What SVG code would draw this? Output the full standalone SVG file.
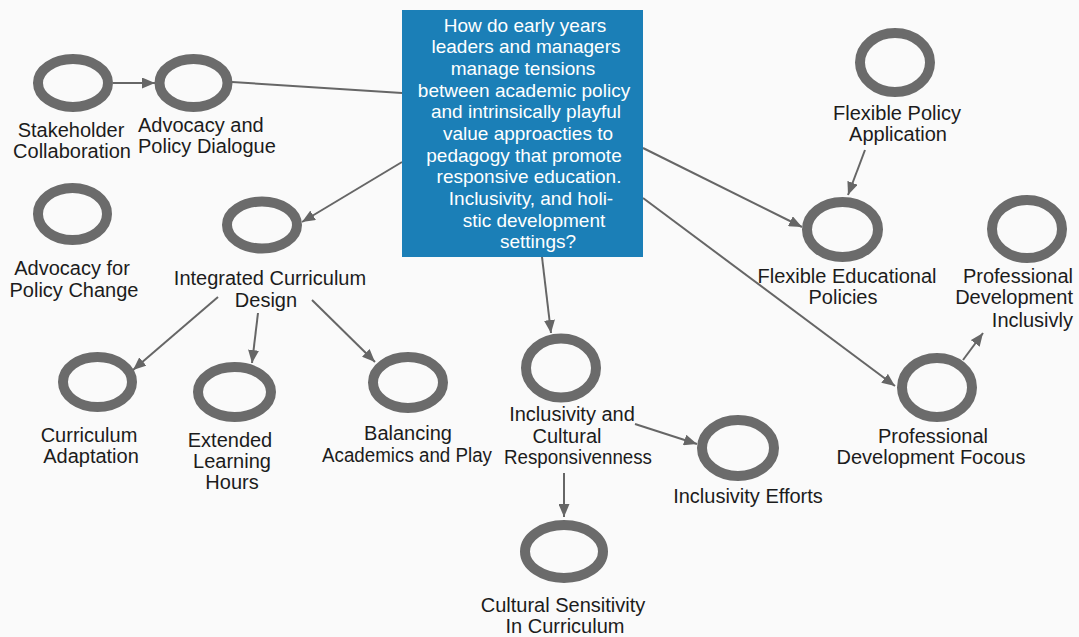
<svg xmlns="http://www.w3.org/2000/svg" width="1079" height="637" viewBox="0 0 1079 637">
  <defs>
    <marker id="arrow" markerUnits="userSpaceOnUse" markerWidth="13" markerHeight="11" refX="13" refY="5.5" orient="auto">
      <path d="M0,0 L13,5.5 L0,11 z" fill="#666666"/>
    </marker>
    <style>
      .ring { fill: none; stroke: #6b6b6b; stroke-width: 10; }
      .edge { fill: none; stroke: #666666; stroke-width: 2; }
      .arr { marker-end: url(#arrow); }
      .lbl { font-family: "Liberation Sans", Arial, sans-serif; font-size: 20px; fill: #1c1c1c; text-anchor: middle; }
      .q { font-family: "Liberation Sans", Arial, sans-serif; font-size: 19px; fill: #ffffff; text-anchor: middle; }
    </style>
  </defs>

  <rect x="0" y="0" width="1079" height="637" fill="#fafafa"/>

  <!-- connectors -->
  <g id="connectors">
    <path class="edge arr" d="M113,83 L155,83"/>
    <path class="edge" d="M232,82 L402,93"/>
    <path class="edge arr" d="M402,162 L302,222"/>
    <path class="edge arr" d="M218,297 L133,370"/>
    <path class="edge arr" d="M258,313 L252,363"/>
    <path class="edge arr" d="M312,300 L375,362"/>
    <path class="edge arr" d="M542,257 L551,333"/>
    <path class="edge arr" d="M635,424 L697,444"/>
    <path class="edge arr" d="M564,473 L564,517"/>
    <path class="edge arr" d="M643,148 L802,227"/>
    <path class="edge arr" d="M865,150 L848,195"/>
    <path class="edge arr" d="M643,198 L895,386"/>
    <path class="edge arr" d="M963,360 L983,333"/>
  </g>

  <!-- central question -->
  <g id="question">
    <rect x="402" y="10" width="241" height="247" fill="#1b7fb7"/>
    <text class="q" x="525" y="32">How do early years</text>
    <text class="q" x="526" y="53">leaders and managers</text>
    <text class="q" x="523" y="75">manage tensions</text>
    <text class="q" x="524" y="97">between academic policy</text>
    <text class="q" x="526" y="118">and intrinsically playful</text>
    <text class="q" x="528" y="140">value approacties to</text>
    <text class="q" x="524" y="162">pedagogy that promote</text>
    <text class="q" x="529" y="183">responsive education.</text>
    <text class="q" x="531" y="205">Inclusivity, and holi-</text>
    <text class="q" x="534" y="227">stic development</text>
    <text class="q" x="538" y="248">settings?</text>
  </g>

  <g id="stakeholder-collaboration">
    <ellipse class="ring" cx="73" cy="83" rx="35" ry="24"/>
    <text class="lbl" x="71" y="137">Stakeholder</text>
    <text class="lbl" x="72" y="158">Collaboration</text>
  </g>

  <g id="advocacy-policy-dialogue">
    <ellipse class="ring" cx="193.5" cy="83" rx="34" ry="24"/>
    <text class="lbl" x="138" y="132" style="text-anchor:start">Advocacy and</text>
    <text class="lbl" x="138" y="153" style="text-anchor:start">Policy Dialogue</text>
  </g>

  <g id="advocacy-policy-change">
    <ellipse class="ring" cx="72.5" cy="214" rx="34.5" ry="26"/>
    <text class="lbl" x="72" y="275">Advocacy for</text>
    <text class="lbl" x="74" y="297">Policy Change</text>
  </g>

  <g id="integrated-curriculum-design">
    <ellipse class="ring" cx="262" cy="225" rx="35" ry="23.5"/>
    <text class="lbl" x="270" y="285">Integrated Curriculum</text>
    <text class="lbl" x="266" y="307">Design</text>
  </g>

  <g id="curriculum-adaptation">
    <ellipse class="ring" cx="97.5" cy="382" rx="34.5" ry="25"/>
    <text class="lbl" x="89" y="442">Curriculum</text>
    <text class="lbl" x="91" y="463">Adaptation</text>
  </g>

  <g id="extended-learning-hours">
    <ellipse class="ring" cx="234.5" cy="392" rx="36.5" ry="25"/>
    <text class="lbl" x="230" y="447">Extended</text>
    <text class="lbl" x="232" y="468">Learning</text>
    <text class="lbl" x="232" y="489">Hours</text>
  </g>

  <g id="balancing-academics-play">
    <ellipse class="ring" cx="408" cy="382.5" rx="35" ry="25.5"/>
    <text class="lbl" x="408" y="440">Balancing</text>
    <text class="lbl" x="407" y="462" textLength="170" lengthAdjust="spacingAndGlyphs">Academics and Play</text>
  </g>

  <g id="inclusivity-cultural-responsiveness">
    <ellipse class="ring" cx="561" cy="368" rx="35" ry="29.5"/>
    <text class="lbl" x="572" y="421">Inclusivity and</text>
    <text class="lbl" x="567" y="443">Cultural</text>
    <text class="lbl" x="578" y="464" textLength="148" lengthAdjust="spacingAndGlyphs">Responsivenness</text>
  </g>

  <g id="inclusivity-efforts">
    <ellipse class="ring" cx="738" cy="448" rx="36" ry="28"/>
    <text class="lbl" x="748" y="503">Inclusivity Efforts</text>
  </g>

  <g id="cultural-sensitivity">
    <ellipse class="ring" cx="564" cy="551.5" rx="39" ry="26.5"/>
    <text class="lbl" x="563" y="612">Cultural Sensitivity</text>
    <text class="lbl" x="565" y="633">In Curriculum</text>
  </g>

  <g id="flexible-policy-application">
    <ellipse class="ring" cx="895" cy="62.5" rx="35" ry="29.5"/>
    <text class="lbl" x="897" y="120">Flexible Policy</text>
    <text class="lbl" x="898" y="141">Application</text>
  </g>

  <g id="flexible-educational-policies">
    <ellipse class="ring" cx="842.5" cy="229.5" rx="35.5" ry="27.5"/>
    <text class="lbl" x="847" y="283">Flexible Educational</text>
    <text class="lbl" x="843" y="304">Policies</text>
  </g>

  <g id="professional-development-inclusivly">
    <ellipse class="ring" cx="1027" cy="229" rx="35" ry="29"/>
    <text class="lbl" x="1073" y="283" style="text-anchor:end">Professional</text>
    <text class="lbl" x="1073" y="304" style="text-anchor:end">Development</text>
    <text class="lbl" x="1073" y="327" style="text-anchor:end">Inclusivly</text>
  </g>

  <g id="professional-development-focous">
    <ellipse class="ring" cx="937" cy="387.5" rx="35" ry="29.5"/>
    <text class="lbl" x="933" y="443">Professional</text>
    <text class="lbl" x="931" y="464">Development Focous</text>
  </g>
</svg>
